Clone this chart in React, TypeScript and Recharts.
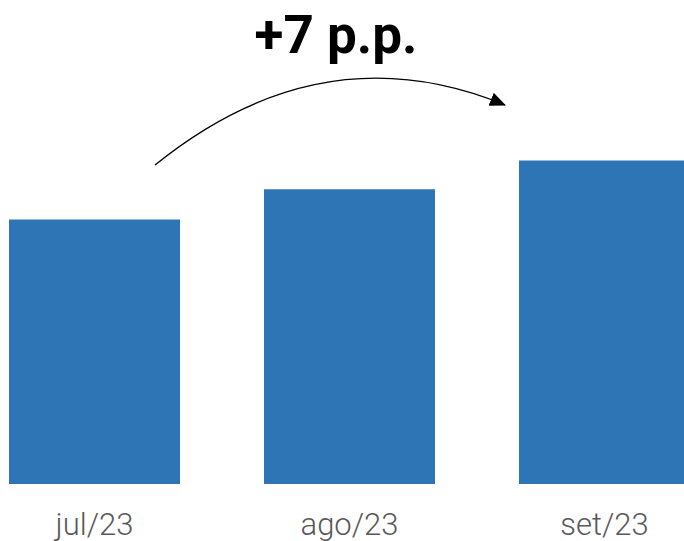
import React from "react";
import { BarChart, Bar, XAxis, YAxis } from "recharts";

const categories = ["jul/23", "ago/23", "set/23"];
const values = [31.4, 35.0, 38.4];
const annotation = "+7 p.p.";

const data = categories.map((c, i) => ({ name: c, value: values[i] }));

export default function App() {
  return (
    <div
      style={{
        position: "absolute",
        left: 0,
        top: 0,
        width: 684,
        height: 541,
        overflow: "hidden",
        background: "#ffffff",
      }}
    >
      <div style={{ position: "absolute", left: -33, top: 0 }}>
        <BarChart
          width={765}
          height={541}
          data={data}
          margin={{ top: 147, right: 0, bottom: 0, left: 0 }}
          barSize={171}
        >
          <XAxis
            dataKey="name"
            axisLine={false}
            tickLine={false}
            height={57}
            tickMargin={23}
            tick={{ fill: "#595959", fontSize: 31, fontFamily: "Roboto", fontWeight: 300 }}
            interval={0}
          />
          <YAxis hide domain={[0, 40]} />
          <Bar dataKey="value" fill="#2E75B6" isAnimationActive={false} />
        </BarChart>
      </div>
      <svg
        width={684}
        height={541}
        style={{ position: "absolute", left: 0, top: 0, pointerEvents: "none" }}
      >
        <defs>
          <marker
            id="arrowHead"
            markerUnits="userSpaceOnUse"
            markerWidth={16}
            markerHeight={14}
            refX={15}
            refY={7}
            orient="auto"
          >
            <path d="M0,0 L16,7 L0,14 z" fill="#000" />
          </marker>
        </defs>
        <path
          d="M155,165 Q322,30 505,105"
          fill="none"
          stroke="#000"
          strokeWidth={1.3}
          markerEnd="url(#arrowHead)"
        />
        <text
          x={336}
          y={53}
          textAnchor="middle"
          fontFamily="Roboto"
          fontWeight={700}
          fontSize={53}
          fill="#000"
        >
          {annotation}
        </text>
      </svg>
    </div>
  );
}
